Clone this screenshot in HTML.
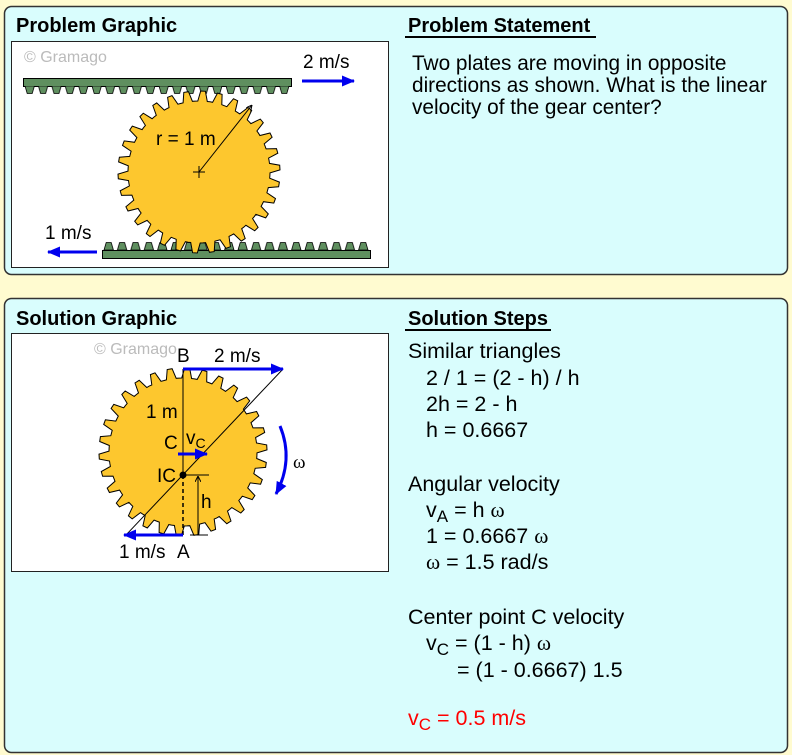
<!DOCTYPE html>
<html><head><meta charset="utf-8"><style>
body{margin:0;background:#fffbd0;}
svg{display:block;font-family:"Liberation Sans",sans-serif;}
</style></head><body>
<svg width="792" height="755" viewBox="0 0 792 755">
<defs>
<pattern id="tdown" x="23" y="86" width="13.4" height="8" patternUnits="userSpaceOnUse">
<polygon points="2,0 11.4,0 9.2,7.5 4.2,7.5" fill="#5f8f5f" stroke="#000" stroke-width="0.8"/>
</pattern>
<pattern id="tup" x="102" y="242" width="13.4" height="8" patternUnits="userSpaceOnUse">
<polygon points="2,8 11.4,8 9.2,0.5 4.2,0.5" fill="#5f8f5f" stroke="#000" stroke-width="0.8"/>
</pattern>
<marker id="ab" markerWidth="13" markerHeight="11" refX="12" refY="5.5" orient="auto" markerUnits="userSpaceOnUse" viewBox="0 0 13 11"><path d="M0,0L13,5.5L0,11z" fill="#0000ee"/></marker>
<marker id="ak" markerWidth="6" markerHeight="6" refX="6" refY="3" orient="auto" markerUnits="userSpaceOnUse"><path d="M0,0L6,3L0,6" fill="none" stroke="#000"/></marker>
</defs>
<rect x="4.5" y="6.5" width="783" height="268" rx="7" fill="#d9fdfd" stroke="#333" stroke-width="1.5"/>
<rect x="4.5" y="298.5" width="783" height="454" rx="7" fill="#d9fdfd" stroke="#333" stroke-width="1.5"/>
<text x="16" y="32" font-size="20" font-weight="bold">Problem Graphic</text>
<text x="16" y="325" font-size="20" font-weight="bold">Solution Graphic</text>
<text x="408" y="32" font-size="20" font-weight="bold">Problem Statement</text>
<line x1="405" y1="37" x2="596" y2="37" stroke="#000" stroke-width="2"/>
<text x="408" y="325" font-size="20" font-weight="bold">Solution Steps</text>
<line x1="405" y1="330" x2="551" y2="330" stroke="#000" stroke-width="2"/>
<g font-size="20.8">
<text x="412" y="70">Two plates are moving in opposite</text>
<text x="412" y="92">directions as shown. What is the linear</text>
<text x="412" y="114">velocity of the gear center?</text>
</g>
<rect x="11.5" y="41.5" width="377" height="226" fill="#fff" stroke="#222"/>
<text x="24" y="62" font-size="16" fill="#bbb">© Gramago</text>
<rect x="23.5" y="78.5" width="268" height="8" fill="#5f8f5f" stroke="#000"/>
<rect x="23" y="86" width="269" height="8" fill="url(#tdown)"/>
<rect x="102.5" y="250.5" width="268" height="8" fill="#5f8f5f" stroke="#000"/>
<rect x="102" y="242" width="269" height="8" fill="url(#tup)"/>
<g id="g1"><circle cx="199" cy="172" r="76" fill="none" stroke="#fdc72e" stroke-width="10" stroke-dasharray="8 7.92"/>
<circle cx="199" cy="172" r="72" fill="#fdc72e"/></g>
<line x1="199" y1="172" x2="252" y2="105" stroke="#000" marker-end="url(#ak)"/>
<path d="M193,172h12M199,166v12" stroke="#000"/>
<text x="156" y="145" font-size="19">r = 1 m</text>
<line x1="302" y1="81" x2="354" y2="81" stroke="#0000ee" stroke-width="3" marker-end="url(#ab)"/>
<text x="303" y="68" font-size="19">2 m/s</text>
<line x1="97" y1="252" x2="48" y2="252" stroke="#0000ee" stroke-width="3" marker-end="url(#ab)"/>
<text x="45" y="239" font-size="19">1 m/s</text>

<rect x="11.5" y="333.5" width="377" height="238" fill="#fff" stroke="#222"/>
<text x="94" y="354" font-size="16" fill="#bbb">© Gramago</text>
<g id="g2"><circle cx="183" cy="452" r="79" fill="none" stroke="#fdc72e" stroke-width="10" stroke-dasharray="8 8.55"/>
<circle cx="183" cy="452" r="75" fill="#fdc72e"/></g>
<line x1="183" y1="369" x2="183" y2="475" stroke="#000"/>
<line x1="183" y1="475" x2="183" y2="535" stroke="#000" stroke-dasharray="4 3" stroke-width="1.5"/>
<line x1="126" y1="535" x2="283" y2="369" stroke="#000"/>
<line x1="183" y1="369" x2="283" y2="369" stroke="#0000ee" stroke-width="3" marker-end="url(#ab)"/>
<line x1="183" y1="535" x2="124" y2="535" stroke="#0000ee" stroke-width="3" marker-end="url(#ab)"/>
<line x1="178" y1="454" x2="207" y2="454" stroke="#0000ee" stroke-width="3" marker-end="url(#ab)"/>
<circle cx="183" cy="475" r="3.5" fill="#000"/>
<line x1="185" y1="475" x2="209" y2="475" stroke="#000"/>
<line x1="190" y1="535" x2="208" y2="535" stroke="#000"/>
<line x1="198" y1="535" x2="198" y2="476" stroke="#000" marker-end="url(#ak)"/>
<path d="M280,426 Q294,460 276,494" fill="none" stroke="#0000ee" stroke-width="3" marker-end="url(#ab)"/>
<g font-size="19">
<text x="177" y="362">B</text>
<text x="214" y="362">2 m/s</text>
<text x="146" y="418">1 m</text>
<text x="164" y="449">C</text>
<text x="186" y="444">v<tspan font-size="14" dy="4">C</tspan></text>
<text x="157" y="482">IC</text>
<text x="201" y="508">h</text>
<text x="119" y="558">1 m/s</text>
<text x="177" y="558">A</text>
<text x="293" y="468" font-family="Liberation Serif,serif">ω</text>
</g>
<g font-size="21.5">
<text x="408" y="358">Similar triangles</text>
<text x="426" y="385">2 / 1 = (2 - h) / h</text>
<text x="426" y="411">2h = 2 - h</text>
<text x="426" y="437">h = 0.6667</text>
<text x="408" y="491">Angular velocity</text>
<text x="426" y="517">v<tspan font-size="17" dy="5">A</tspan><tspan dy="-5"> = h </tspan><tspan font-family="Liberation Serif,serif">ω</tspan></text>
<text x="426" y="543">1 = 0.6667 <tspan font-family="Liberation Serif,serif">ω</tspan></text>
<text x="426" y="569"><tspan font-family="Liberation Serif,serif">ω</tspan> = 1.5 rad/s</text>
<text x="408" y="624">Center point C velocity</text>
<text x="426" y="650">v<tspan font-size="17" dy="5">C</tspan><tspan dy="-5"> = (1 - h) </tspan><tspan font-family="Liberation Serif,serif">ω</tspan></text>
<text x="457" y="677">= (1 - 0.6667) 1.5</text>
<text x="408" y="725" fill="#f00">v<tspan font-size="17" dy="5">C</tspan><tspan dy="-5"> = 0.5 m/s</tspan></text>
</g>
</svg>
<script>
(function(){
function gear(id,cx,cy,ri,ro,n,rot){
 var g=document.getElementById(id);var pts=[];
 for(var i=0;i<n;i++){
  var a=(i/n)*2*Math.PI+rot, s=2*Math.PI/n;
  var f=[[0,ri],[0.18,ri],[0.36,ro],[0.64,ro],[0.82,ri]];
  f.forEach(function(p){var t=a+p[0]*s;pts.push((cx+p[1]*Math.cos(t)).toFixed(1)+","+(cy+p[1]*Math.sin(t)).toFixed(1));});
 }
 g.innerHTML='<polygon points="'+pts.join(" ")+'" fill="#fdc72e" stroke="#000" stroke-width="1"/>';
}
gear("g1",199,172,71,81,30,0.05);
gear("g2",183,452,74,84,30,0.05);
})();
</script>
</body></html>
